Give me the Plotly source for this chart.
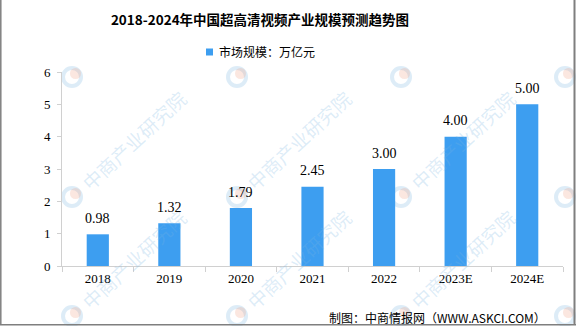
import plotly.graph_objects as go

categories = ["2018", "2019", "2020", "2021", "2022", "2023E", "2024E"]
values = [0.98, 1.32, 1.79, 2.45, 3.00, 4.00, 5.00]
series_name = "市场规模：万亿元"
y_ticks = [0, 1, 2, 3, 4, 5, 6]
title_text = "2018-2024年中国超高清视频产业规模预测趋势图"
source_text = "制图：中商情报网（WWW.ASKCI.COM）"
watermark_text = "中商产业研究院"

W, H = 576, 326
L, R, T, B = 62, 13, 72, 60
pw, ph = W - L - R, H - T - B


def px(x):
    return (x - L) / pw


def py(y):
    return (H - B - y) / ph


BAR_COLOR = "#3d9ef0"
font_num = "Liberation Serif, Times New Roman, serif"
font_cjk = "Noto Sans CJK SC"

fig = go.Figure()
fig.add_trace(go.Bar(
    x=categories, y=values, name=series_name,
    marker=dict(color=BAR_COLOR, line=dict(width=0)),
    showlegend=False,
))

annotations = []
shapes = []
# watermarks (logos on a grid, text where fully visible)
wm_x = [-93, 72, 237, 401, 565]
wm_y = [77, 197, 316]
WM = "rgba(120,180,225,0.25)"
for lx in wm_x:
    for ly in wm_y:
        cx, cy = lx + 61, ly - 57
        if 0 < cx - 52 and cx + 52 < W and cy - 50 > 0 and cy + 50 < H:
            annotations.append(dict(
                text=watermark_text, xref="paper", yref="paper",
                x=px(cx), y=py(cy), xanchor="center", yanchor="middle",
                textangle=-43, showarrow=False,
                font=dict(size=19, family=font_cjk, color=WM),
            ))
        if 0 <= lx <= W:
            shapes.append(dict(type="circle", xref="paper", yref="paper",
                               x0=px(lx - 9), x1=px(lx + 9), y0=py(ly - 9), y1=py(ly + 9),
                               line=dict(color=WM, width=4), layer="below"))
            shapes.append(dict(type="circle", xref="paper", yref="paper",
                               x0=px(lx - 2), x1=px(lx + 9), y0=py(ly - 9), y1=py(ly + 2),
                               fillcolor="rgba(240,160,130,0.25)", line=dict(width=0), layer="below"))

# data labels (x given as category index on the category axis)
for i, v in enumerate(values):
    annotations.append(dict(
        text=f"{v:.2f}", x=i, y=v, xref="x", yref="y",
        xanchor="center", yanchor="middle", yshift=16, showarrow=False,
        font=dict(size=14, family=font_num, color="#000"),
    ))

# legend (custom)
shapes.append(dict(type="rect", xref="paper", yref="paper",
                   x0=px(206), x1=px(213), y0=py(55.5), y1=py(48.5),
                   fillcolor=BAR_COLOR, line=dict(width=0)))
annotations.append(dict(text=series_name, xref="paper", yref="paper",
                        x=px(217), xanchor="left", y=py(52), yanchor="middle",
                        showarrow=False, font=dict(size=12, family=font_cjk, color="#000")))

annotations.append(dict(text=source_text, xref="paper", yref="paper",
                        x=px(548), xanchor="right", y=py(317), yanchor="middle", showarrow=False,
                        font=dict(size=12, family=font_cjk, color="#000")))

# frame lines
shapes += [
    dict(type="line", xref="paper", yref="paper", x0=px(0.8), x1=px(0.8), y0=py(325), y1=py(0),
         line=dict(color="#7f7f7f", width=1.5)),
    dict(type="line", xref="paper", yref="paper", x0=px(574.5), x1=px(574.5), y0=py(325), y1=py(0),
         line=dict(color="#7f7f7f", width=2)),
    dict(type="line", xref="paper", yref="paper", x0=px(0), x1=px(576), y0=py(324.8), y1=py(324.8),
         line=dict(color="#7f7f7f", width=1.5)),
]

fig.update_layout(
    width=W, height=H,
    margin=dict(l=L, r=R, t=T, b=B),
    paper_bgcolor="white", plot_bgcolor="white",
    bargap=0.69,
    showlegend=False,
    title=dict(text="<b>" + title_text + "</b>",
               x=260 / W, xanchor="center", y=1 - 20 / H, yanchor="middle",
               font=dict(size=13.5, family=font_cjk, color="#000")),
    xaxis=dict(type="category", categoryorder="array", categoryarray=categories,
               range=[-0.5, len(categories) - 0.5],
               showline=True, linecolor="#d0d0d0", linewidth=1,
               ticks="outside", tickson="boundaries", ticklen=5, tickcolor="#d0d0d0",
               tickfont=dict(size=13, family=font_num, color="#000"),
               showgrid=False, zeroline=False),
    yaxis=dict(range=[0, 6], tickvals=y_ticks, showline=True, linecolor="#d0d0d0",
               linewidth=1, ticks="outside", ticklen=4, tickcolor="#d0d0d0",
               ticklabelstandoff=4,
               tickfont=dict(size=13, family=font_num, color="#000"),
               showgrid=False, zeroline=False),
    shapes=shapes,
    annotations=annotations,
)

fig.write_html("out.html")
